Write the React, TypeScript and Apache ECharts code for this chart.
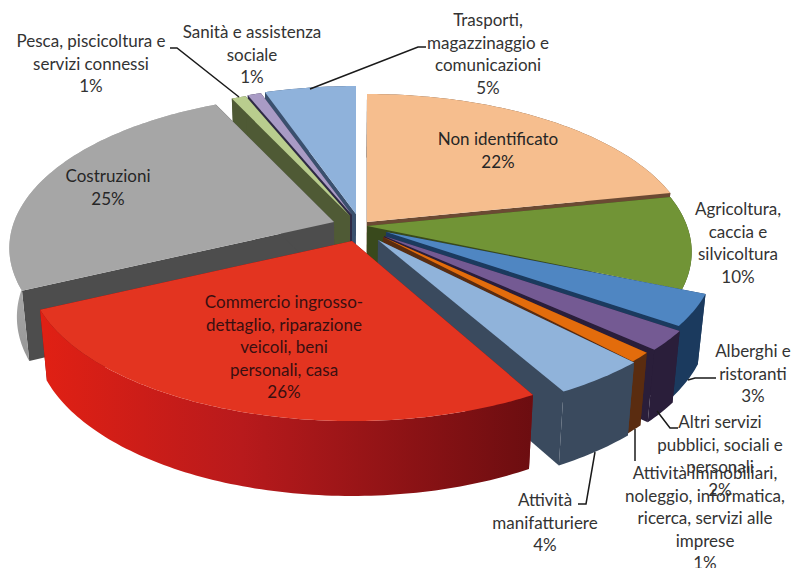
import React, { useEffect, useRef } from "react";
import * as echarts from "echarts";

const categories = [
  "Non identificato",
  "Agricoltura,\ncaccia e\nsilvicoltura",
  "Alberghi e\nristoranti",
  "Altri servizi\npubblici, sociali e\npersonali",
  "Attività immobiliari,\nnoleggio, informatica,\nricerca, servizi alle\nimprese",
  "Attività\nmanifatturiere",
  "Commercio ingrosso-\ndettaglio, riparazione\nveicoli, beni\npersonali, casa",
  "Costruzioni",
  "Pesca, piscicoltura e\nservizi connessi",
  "Sanità e assistenza\nsociale",
  "Trasporti,\nmagazzinaggio e\ncomunicazioni",
];
const values = [21.8, 9.7, 3.4, 2.1, 1, 4, 26, 25, 0.85, 0.8, 5.35];

// Styling of the projected 3D pie, per slice in category order.
const topColors = ["#F6BE8E", "#719436", "#4F86C2", "#745A93", "#E36C0C", "#90B3DA", "#E33420", "#A6A6A6", "#B9CD8E", "#A99BC5", "#8FB2DB"];
const wallColors = ["#6B4A33", "#39491C", "#1B3A5E", "#2A1E3A", "#5A2C10", "#3A4A5E", "#7A1014", "#4D4D4D", "#4F5A35", "#2E2A45", "#3A506E"];
const apexes: number[][] = [
  [367, 222], [367, 226], [386, 232], [384, 236], [383, 237], [378, 240], [352, 241], [334, 222], [350, 216], [352, 215], [356, 214],
];
const rimStretch: number[][] = [
  [1, 1], [1, 1], [1.015, 0.972], [1.025, 0.983], [1, 1], [1.025, 0.985], [1, 1], [1, 1], [1, 1], [1, 1], [1, 1],
];
const drawOrder = [9, 10, 10, 10, 10, 10, 12, 8, 3, 2, 1]; // painter's order
const labelAnchors: number[][] = [
  [498, 139], [738, 209], [753, 351], [720, 422], [705, 473], [545, 500], [284, 302], [108, 176], [91, 41], [252, 32], [488, 20],
];
const labelColors = ["#262626", "#333333", "#333333", "#333333", "#333333", "#333333", "#3A0F10", "#262626", "#333333", "#333333", "#333333"];
const leaders: number[][][] = [
  [[170, 48], [177, 48], [239, 97]],
  [[426, 47], [418, 47], [310, 89]],
  [[716, 378], [695, 378], [688, 380]],
  [[678, 428], [670, 428], [657, 411]],
  [[635, 461], [635, 429]],
  [[578, 504], [586, 504], [595, 452]],
];

const PERSP = 0.169;
const RX = 320;
const RY = 149.6;
const LINE = 22.4;

function rim(i: number, deg: number) {
  const apex = apexes[i];
  const t = (deg * Math.PI) / 180;
  const X = Math.sin(t);
  const Z = -Math.cos(t);
  const w = 1 / (1 - PERSP * Z);
  return [apex[0] + RX * rimStretch[i][0] * X * w, apex[1] + RY * rimStretch[i][1] * Z * w];
}
function lower(p: number[]) {
  return [352 + (p[0] - 352) * 0.978, p[1] + 68 + 0.035 * (p[1] - 222)];
}

function wallFill(i: number): any {
  if (i === 6) {
    return {
      type: "linear", x: 44, y: 0, x2: 536, y2: 0, global: true,
      colorStops: [
        { offset: 0, color: "#E02014" },
        { offset: 0.4, color: "#B81A1C" },
        { offset: 1, color: "#6B0D10" },
      ],
    };
  }
  if (i === 7) {
    return {
      type: "linear", x: 0, y: 240, x2: 0, y2: 361, global: true,
      colorStops: [
        { offset: 0, color: "#B4B4B4" },
        { offset: 1, color: "#969696" },
      ],
    };
  }
  return wallColors[i];
}

export default function App() {
  const ref = useRef<HTMLDivElement>(null);
  useEffect(() => {
    const chart = echarts.init(ref.current!, undefined, { renderer: "svg" });
    const total = values.reduce((a, b) => a + b, 0);
    const starts: number[] = [];
    values.reduce((acc, v, i) => {
      starts[i] = acc;
      return acc + v;
    }, 0);

    const renderItem = (_: any, api: any) => {
      const i = api.value(0);
      const value = api.value(1);
      const a0 = (starts[i] / total) * 360;
      const a1 = a0 + (value / total) * 360;
      const apex = apexes[i];
      const arc: number[][] = [];
      const steps = Math.max(2, Math.ceil(a1 - a0));
      for (let k = 0; k <= steps; k++) arc.push(rim(i, a0 + ((a1 - a0) * k) / steps));
      const arcLow = arc.map(lower);
      const apexLow = lower(apex);
      const z = drawOrder[i] * 10 + i;
      const fill = wallColors[i];
      const poly = (points: number[][], f: any, zz: number) => ({
        type: "polygon",
        shape: { points },
        style: { fill: f },
        z2: zz,
        silent: true,
      });
      return {
        type: "group",
        children: [
          poly([apex, arc[0], arcLow[0], apexLow], fill, z),
          poly([apex, arc[arc.length - 1], arcLow[arcLow.length - 1], apexLow], fill, z),
          poly([...arc, ...arcLow.slice().reverse()], wallFill(i), z + 0.2),
          poly([apex, ...arc], topColors[i], z + 0.4),
        ],
      };
    };

    const textEls = categories.map((c, i) => ({
      type: "text",
      z: 100,
      x: labelAnchors[i][0],
      y: labelAnchors[i][1] - LINE / 2,
      style: {
        text: `${c}\n${Math.round(values[i])}%`,
        fill: labelColors[i],
        font: "17px Lato",
        lineHeight: LINE,
        align: "center",
        verticalAlign: "top",
      },
    }));
    const leaderEls = leaders.map((pts) => ({
      type: "polyline",
      z: 50,
      shape: { points: pts },
      style: { stroke: "#1A1A1A", lineWidth: 1.5, fill: "none" },
    }));

    chart.setOption({
      animation: false,
      backgroundColor: "#ffffff",
      graphic: { elements: [...leaderEls, ...textEls] },
      series: [
        {
          type: "custom",
          coordinateSystem: "none",
          renderItem,
          silent: true,
          data: values.map((v, i) => ({ name: categories[i], value: [i, v] })),
        },
      ],
    });
    return () => chart.dispose();
  }, []);
  return <div ref={ref} style={{ position: "absolute", left: 0, top: 0, width: 793, height: 568 }} />;
}
